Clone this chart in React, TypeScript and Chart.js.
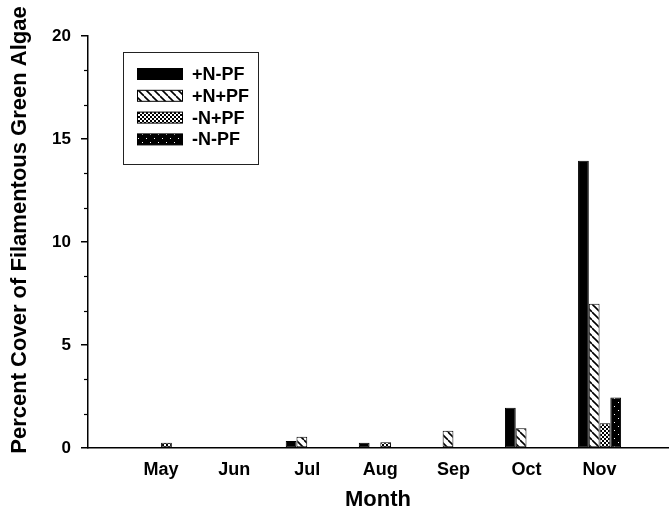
import React, { useEffect, useRef } from 'react';
import { Chart, registerables } from 'chart.js';

Chart.register(...registerables);

// ---- data ----
const MONTHS = ['May', 'Jun', 'Jul', 'Aug', 'Sep', 'Oct', 'Nov'];
const SERIES_LABELS = ['+N-PF', '+N+PF', '-N+PF', '-N-PF'];
const PLUS_N_MINUS_PF = [0, 0, 0.34, 0.26, 0, 1.95, 13.95];
const PLUS_N_PLUS_PF = [0.05, 0, 0.55, 0.05, 0.84, 0.96, 7.0];
const MINUS_N_PLUS_PF = [0.25, 0, 0, 0.28, 0, 0, 1.2];
const MINUS_N_MINUS_PF = [0, 0, 0, 0, 0, 0, 2.45];
const Y_MIN = 0;
const Y_MAX = 20;
const Y_STEP = 5;
const Y_MINOR_STEP = 5 / 3;
const X_TITLE = 'Month';
const Y_TITLE = 'Percent Cover of Filamentous Green Algae';

const FONT = "'Liberation Sans', Arial, Helvetica, sans-serif";

function makePattern(kind: string): CanvasPattern | string {
  const c = document.createElement('canvas');
  const ctx = c.getContext('2d')!;
  if (kind === 'hatch') {
    c.width = 8; c.height = 8;
    ctx.fillStyle = '#fff';
    ctx.fillRect(0, 0, 8, 8);
    ctx.strokeStyle = '#000';
    ctx.lineWidth = 1.6;
    for (const off of [-8, 0, 8]) {
      ctx.beginPath();
      ctx.moveTo(0, off);
      ctx.lineTo(8, off + 8);
      ctx.stroke();
    }
  } else if (kind === 'checker') {
    c.width = 4; c.height = 4;
    ctx.fillStyle = '#000';
    ctx.fillRect(0, 0, 4, 4);
    ctx.fillStyle = '#fff';
    ctx.fillRect(0, 0, 2, 2);
    ctx.fillRect(2, 2, 2, 2);
  } else if (kind === 'sparse') {
    c.width = 8; c.height = 8;
    ctx.fillStyle = '#000';
    ctx.fillRect(0, 0, 8, 8);
    ctx.fillStyle = '#fff';
    ctx.fillRect(2, 2, 1, 1);
    ctx.fillRect(6, 6, 1, 1);
  } else {
    return '#000';
  }
  return ctx.createPattern(c, 'repeat')!;
}

const overlayPlugin = {
  id: 'overlay',
  afterDraw(chart: any) {
    const ctx = chart.ctx as CanvasRenderingContext2D;
    const y = chart.scales.y;
    const area = chart.chartArea;
    ctx.save();
    // minor ticks on y axis
    ctx.strokeStyle = '#000';
    ctx.lineWidth = 1.2;
    for (let k = 1; k * Y_MINOR_STEP < Y_MAX - 1e-6; k++) {
      if (k % 3 === 0) continue;
      const py = Math.round(y.getPixelForValue(k * Y_MINOR_STEP)) + 0.5;
      ctx.beginPath();
      ctx.moveTo(area.left - 4, py);
      ctx.lineTo(area.left, py);
      ctx.stroke();
    }
    // legend box
    ctx.lineWidth = 1;
    ctx.strokeStyle = '#222';
    ctx.strokeRect(123.5, 52.5, 135, 112);
    const ds = chart.data.datasets;
    ctx.font = `bold 18px ${FONT}`;
    ctx.textBaseline = 'middle';
    ctx.textAlign = 'left';
    ds.forEach((d: any, i: number) => {
      const cy = 74 + i * 21.8;
      ctx.fillStyle = d.backgroundColor;
      ctx.fillRect(137, cy - 5.5, 45, 11);
      ctx.strokeStyle = '#000';
      ctx.strokeRect(137.5, cy - 5.5, 45, 11);
      ctx.fillStyle = '#000';
      ctx.fillText(d.label, 192, cy + 1);
    });
    // axis titles
    ctx.font = `bold 22px ${FONT}`;
    ctx.textAlign = 'center';
    ctx.textBaseline = 'middle';
    ctx.fillStyle = '#000';
    ctx.fillText(X_TITLE, 378, 500);
    ctx.translate(20, 230);
    ctx.rotate(-Math.PI / 2);
    ctx.fillText(Y_TITLE, 0, 0);
    ctx.restore();
  },
};

export default function App() {
  const ref = useRef<HTMLCanvasElement>(null);
  useEffect(() => {
    if (!ref.current) return;
    const seriesValues = [PLUS_N_MINUS_PF, PLUS_N_PLUS_PF, MINUS_N_PLUS_PF, MINUS_N_MINUS_PF];
    const fills = ['solid', 'hatch', 'checker', 'sparse'].map(makePattern);
    const chart = new Chart(ref.current, {
      type: 'bar',
      data: {
        datasets: seriesValues.map((vals, si) => ({
          label: SERIES_LABELS[si],
          data: vals.map((v, i) => ({ x: i + 1, y: v })),
          backgroundColor: fills[si] as any,
          borderColor: '#000',
          borderWidth: 1,
          borderSkipped: false,
          barPercentage: 1,
          categoryPercentage: 0.62,
        })),
      },
      options: {
        responsive: false,
        animation: false,
        devicePixelRatio: 1,
        layout: { padding: { top: 36, left: 0, right: 0, bottom: 0 } },
        plugins: { legend: { display: false }, tooltip: { enabled: false } },
        scales: {
          x: {
            type: 'linear',
            min: 0,
            max: 7.95,
            offset: false,
            grid: { display: false },
            border: { display: true, color: '#000', width: 1.5 },
            ticks: {
              stepSize: 1,
              autoSkip: false,
              maxRotation: 0,
              minRotation: 0,
              padding: 3,
              color: '#000',
              font: { family: FONT, size: 18, weight: 'bold' },
              callback: (value: any) => {
                const v = Number(value);
                const i = Math.round(v);
                if (Math.abs(v - i) < 1e-6 && i >= 1 && i <= MONTHS.length) return MONTHS[i - 1];
                return '';
              },
            },
            afterFit: (scale: any) => { scale.height = 64; },
          },
          y: {
            min: Y_MIN,
            max: Y_MAX,
            grid: {
              display: true,
              drawOnChartArea: false,
              drawTicks: true,
              tickLength: 7,
              color: '#000',
              lineWidth: 1.5,
            },
            border: { display: true, color: '#000', width: 1.5 },
            ticks: {
              stepSize: Y_STEP,
              padding: 10,
              color: '#000',
              font: { family: FONT, size: 17, weight: 'bold' },
            },
            afterFit: (scale: any) => { scale.width = 88; },
          },
        },
      },
      plugins: [overlayPlugin],
    });
    return () => chart.destroy();
  }, []);
  return (
    <div style={{ position: 'fixed', left: 0, top: 0, width: 669, height: 512, background: '#fff', overflow: 'hidden' }}>
      <canvas ref={ref} width={672} height={512} />
    </div>
  );
}
